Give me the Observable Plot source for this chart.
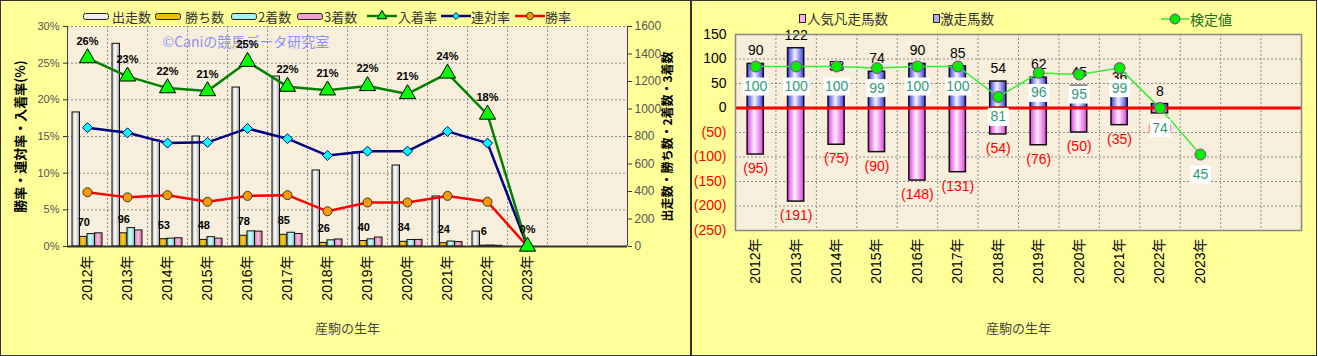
<!DOCTYPE html>
<html>
<head>
<meta charset="utf-8">
<script src="https://cdn.jsdelivr.net/npm/d3@7"></script>
<script src="https://cdn.jsdelivr.net/npm/@observablehq/plot@0.6"></script>
<style>
  html, body { margin: 0; padding: 0; background: #ffffff; }
  #wrap { position: relative; width: 1318px; height: 356px; overflow: hidden;
          font-family: 'Liberation Sans', 'Noto Sans CJK JP', sans-serif; }
  .panel { position: absolute; top: 0; height: 356px; box-sizing: border-box;
           background: #FFFF99; border: 1px solid #333; }
  .chart { position: absolute; top: 0; }
  .leg { position: absolute; display: flex; align-items: center; white-space: nowrap;
         font-family: 'Noto Sans CJK JP', sans-serif; color: #333; }
  .leg svg { display: block; }
</style>
</head>
<body>
<div id="wrap">
  <div class="panel" style="left:0;width:691px;"></div>
  <div class="panel" style="left:691px;width:626px;"></div>
</div>
<script>
// ---------------- data ----------------
const years = [2012, 2013, 2014, 2015, 2016, 2017, 2018, 2019, 2020, 2021, 2022, 2023];
const yearLabels = years.map(y => `${y}年`);

// left chart: counts (right axis) and rates (left axis, %)
const starts  = [975, 1474, 771, 800, 1156, 1236, 553, 684, 589, 364, 109, 0];
const wins    = [70, 96, 53, 48, 78, 85, 26, 40, 34, 24, 6, 0];
const seconds = [90, 134, 57, 68, 110, 100, 45, 52, 47, 36, 7, 0];
const thirds  = [96, 117, 60, 57, 108, 91, 51, 65, 48, 32, 5, 0];
const placeRate    = [25.7, 23.2, 21.6, 21.2, 25.2, 21.8, 21.3, 21.9, 20.8, 23.6, 18.0, 0];
const quinellaRate = [16.2, 15.5, 14.1, 14.2, 16.1, 14.7, 12.4, 13.0, 13.0, 15.7, 14.1, 0];
const winRate      = [7.4, 6.7, 7.0, 6.1, 6.9, 7.0, 4.8, 6.0, 6.0, 6.9, 6.1, 0];
const rateTicks  = [0, 5, 10, 15, 20, 25, 30];
const countTicks = [0, 200, 400, 600, 800, 1000, 1200, 1400, 1600];

// right chart
const hotHorses  = [90, 122, 58, 74, 90, 85, 54, 62, 45, 36, 8, null];   // 激走馬数
const favFlops   = [95, 191, 75, 90, 148, 131, 54, 76, 50, 35, 11, null]; // 人気凡走馬数
const testValues = [100, 100, 100, 99, 100, 100, 81, 96, 95, 99, 74, 45]; // 検定値
const rightTicks = [-250, -200, -150, -100, -50, 0, 50, 100, 150];

// ---------------- helpers ----------------
const FONT = "'Liberation Sans', 'Noto Sans CJK JP', sans-serif";
const JP = "'Noto Sans CJK JP', sans-serif";
const wrap = document.getElementById("wrap");
const dotted = {stroke: "#8c8c8c", strokeOpacity: 1, strokeDasharray: "2,2", strokeWidth: 1};
const xDomain = [2011.5, 2025.5];           // 14 category slots, 12 used
const slotEdges = d3.range(2012.5, 2025.5, 1);

function addGradients(svg, grads) {
  const defs = d3.select(svg).insert("defs", ":first-child");
  for (const [id, stops] of grads) {
    const g = defs.append("linearGradient").attr("id", id)
      .attr("x1", 0).attr("x2", 1).attr("y1", 0).attr("y2", 0);
    stops.forEach(([o, c]) => g.append("stop").attr("offset", o).attr("stop-color", c));
  }
}
function place(node, left) {
  node.classList.add("chart");
  node.style.left = left + "px";
  wrap.appendChild(node);
}
function legendItem(sx, tx, cy, swatch, sw, sh, label, color, size) {
  const s = document.createElement("div");
  s.className = "leg";
  s.style.left = sx + "px"; s.style.top = (cy - sh / 2) + "px";
  s.innerHTML = `<svg width="${sw}" height="${sh}">${swatch}</svg>`;
  wrap.appendChild(s);
  const t = document.createElement("div");
  t.className = "leg";
  t.style.left = tx + "px"; t.style.top = (cy - size * 0.72) + "px";
  t.style.fontSize = size + "px"; t.style.color = color;
  t.textContent = label;
  wrap.appendChild(t);
}
const barSwatch = (fill) => `<rect x="0.5" y="1.5" width="25" height="6" rx="2" fill="${fill}" stroke="#222"/>`;
const lineSwatch = (stroke, sym, size, fill, mstroke) =>
  `<line x1="0" x2="30" y1="7" y2="7" stroke="${stroke}" stroke-width="2.5"/>` +
  `<path transform="translate(15,7)" d="${d3.symbol(sym, size)()}" fill="${fill}" stroke="${mstroke}"/>`;

// ---------------- left chart ----------------
const cnt = d3.scaleLinear([0, 1600], [0, 30]);   // counts -> secondary (right) axis
const rows = years.map((year, i) => ({
  year, starts: starts[i], wins: wins[i], seconds: seconds[i], thirds: thirds[i],
  place: placeRate[i], quin: quinellaRate[i], win: winRate[i]
}));
const bw = 0.1875;
const barDefs = ["starts", "wins", "seconds", "thirds"];
const barGrad = ["gStart", "gWin", "gSecond", "gThird"];

const left = Plot.plot({
  width: 691, height: 356,
  marginLeft: 67, marginRight: 64, marginTop: 26, marginBottom: 110,
  style: {fontFamily: FONT, background: "transparent", overflow: "visible"},
  x: {domain: xDomain, label: null},
  y: {domain: [0, 30], label: null},
  marks: [
    Plot.frame({fill: "#F7EFDB"}),
    Plot.gridY(rateTicks, dotted),
    Plot.gridX(slotEdges, dotted),
    Plot.text(["©Caniの競馬データ研究室"], {text: d => d, frameAnchor: "top-left", dx: 95, dy: 16,
      lineAnchor: "middle", textAnchor: "start", fill: "#9090f8", fontSize: 14, fontFamily: JP}),
    ...barDefs.map((key, k) => Plot.rect(rows, {
      x1: d => d.year - 0.375 + k * bw, x2: d => d.year - 0.375 + (k + 1) * bw,
      y1: 0, y2: d => cnt(d[key]),
      fill: `url(#${barGrad[k]})`, stroke: "#111", strokeWidth: 1
    })),
    Plot.ruleY([0], {stroke: "#333", strokeWidth: 2}),
    Plot.ruleX(xDomain, {stroke: "#444", strokeWidth: 1}),
    // lines
    Plot.line(rows, {x: "year", y: "win", stroke: "#ff0000", strokeWidth: 2.5}),
    Plot.line(rows, {x: "year", y: "quin", stroke: "#000080", strokeWidth: 2.5}),
    Plot.line(rows, {x: "year", y: "place", stroke: "#008000", strokeWidth: 2.5}),
    Plot.dot(rows, {x: "year", y: "win", r: 4.5, fill: "#ff9900", stroke: "#333", strokeWidth: 1}),
    Plot.dot(rows, {x: "year", y: "quin", symbol: "diamond2", r: 4.5, fill: "#00ffff", stroke: "#000080", strokeWidth: 1}),
    Plot.dot(rows, {x: "year", y: "place", symbol: "triangle", r: 6, fill: "#00ff00", stroke: "#000", strokeWidth: 1}),
    // labels
    Plot.text(rows, {x: "year", y: "place", text: d => `${Math.round(d.place)}%`, dy: -17,
      fontSize: 11, fontWeight: "bold", fill: "#000", letterSpacing: 1}),
    Plot.text(rows.filter(d => d.wins > 0), {x: d => d.year - 0.09375, y: d => cnt(d.wins),
      text: d => String(d.wins), dy: -14, fontSize: 11, fontWeight: "bold", fill: "#000", letterSpacing: 1}),
    // axes
    Plot.axisY(rateTicks, {anchor: "left", tickFormat: d => `${d}%`, tickSize: 4, tickPadding: 4,
      fontSize: 11, fill: "#555", stroke: "#333"}),
    Plot.axisY(countTicks.map(c => cnt(c)), {anchor: "right", tickFormat: v => String(Math.round(cnt.invert(v))),
      tickSize: 4, tickPadding: 3, fontSize: 12, fill: "#555", stroke: "#333"}),
    Plot.axisX(years, {tickFormat: (d, i) => yearLabels[i], tickRotate: -90, tickSize: 0, tickPadding: 9,
      fontSize: 14, fill: "#000"}),
    Plot.text(["勝率・連対率・入着率(%)"], {text: d => d, frameAnchor: "left", dx: -47, rotate: -90,
      textAnchor: "middle", fontSize: 13, fontWeight: "bold", fontFamily: JP, fill: "#000"}),
    Plot.text(["出走数・勝ち数・2着数・3着数"], {text: d => d, frameAnchor: "right", dx: 41, rotate: -90,
      textAnchor: "middle", fontSize: 12, fontWeight: "bold", fontFamily: JP, fill: "#000"}),
    Plot.text(["産駒の生年"], {text: d => d, frameAnchor: "bottom", dy: 86, fontSize: 13,
      fontFamily: JP, fill: "#444"})
  ]
});
addGradients(left, [
  ["gStart", [[0, "#b8b8b8"], [0.45, "#ffffff"], [1, "#a0a0a0"]]],
  ["gWin", [[0, "#c89600"], [0.45, "#ffd21a"], [1, "#c08c00"]]],
  ["gSecond", [[0, "#70d8d8"], [0.45, "#d8ffff"], [1, "#68cccc"]]],
  ["gThird", [[0, "#d070a8"], [0.45, "#ffc0e0"], [1, "#c86aa0"]]]
]);
place(left, 0);

// ---------------- right chart ----------------
const sec = d3.scaleLinear([0, 120], [-242, 150]);  // 検定値 -> hidden secondary axis
const rrows = years.map((year, i) => ({year, hot: hotHorses[i], flop: favFlops[i], test: testValues[i]}));
const boxSym = (w) => ({draw(ctx) {
  ctx.moveTo(-w / 2, -9); ctx.lineTo(w / 2, -9); ctx.lineTo(w / 2, 9); ctx.lineTo(-w / 2, 9); ctx.closePath();
}});
const hasHot = rrows.filter(d => d.hot != null);
const hasFlop = rrows.filter(d => d.flop != null);

const right = Plot.plot({
  width: 627, height: 356,
  marginLeft: 44, marginRight: 17, marginTop: 34, marginBottom: 126,
  style: {fontFamily: FONT, background: "transparent", overflow: "visible"},
  x: {domain: xDomain, label: null},
  y: {domain: [-250, 150], label: null},
  marks: [
    Plot.frame({fill: "#F7EFDB"}),
    Plot.gridY(rightTicks, dotted),
    Plot.gridX(slotEdges, dotted),
    Plot.rect(hasHot, {x1: d => d.year - 0.2, x2: d => d.year + 0.2, y1: 0, y2: "hot",
      fill: "url(#gHot)", stroke: "#111", strokeWidth: 1.5}),
    Plot.rect(hasFlop, {x1: d => d.year - 0.2, x2: d => d.year + 0.2, y1: 0, y2: d => -d.flop,
      fill: "url(#gFlop)", stroke: "#111", strokeWidth: 1.5}),
    Plot.ruleY([0], {stroke: "#ff0000", strokeWidth: 3}),
    Plot.text(hasHot, {x: "year", y: "hot", text: d => String(d.hot), dy: -13, fontSize: 14, fill: "#000"}),
    Plot.text(hasFlop, {x: "year", y: d => -d.flop, text: d => `(${d.flop})`, dy: 14, fontSize: 14, fill: "#ff0000"}),
    Plot.line(rrows, {x: "year", y: d => sec(d.test), stroke: "#33ee33", strokeWidth: 1.5}),
    Plot.dot(rrows, {x: "year", y: d => sec(d.test), r: 5.5, fill: "#00ee00", stroke: "#993399", strokeWidth: 1}),
    Plot.dot(rrows.filter(d => d.test >= 100), {x: "year", y: d => sec(d.test), dy: 20, symbol: boxSym(26), fill: "#ffffff", stroke: "none"}),
    Plot.dot(rrows.filter(d => d.test < 100), {x: "year", y: d => sec(d.test), dy: 20, symbol: boxSym(21), fill: "#ffffff", stroke: "none"}),
    Plot.text(rrows, {x: "year", y: d => sec(d.test), dy: 20, text: d => String(d.test), fontSize: 14, fill: "#339977"}),
    Plot.axisY(rightTicks.filter(t => t >= 0), {anchor: "left", tickSize: 0, tickPadding: 9, fontSize: 14, fill: "#000"}),
    Plot.axisY(rightTicks.filter(t => t < 0), {anchor: "left", tickFormat: d => `(${-d})`, tickSize: 0,
      tickPadding: 9, fontSize: 14, fill: "#ff0000"}),
    Plot.axisX(years, {tickFormat: (d, i) => yearLabels[i], tickRotate: -90, tickSize: 0, tickPadding: 8,
      fontSize: 14, fill: "#000"}),
    Plot.frame({stroke: "#888", strokeWidth: 1.5}),
    Plot.text(["産駒の生年"], {text: d => d, frameAnchor: "bottom", dy: 102, fontSize: 13,
      fontFamily: JP, fill: "#444"})
  ]
});
addGradients(right, [
  ["gHot", [[0, "#3a3ae8"], [0.45, "#f4f4ff"], [1, "#3a3ae8"]]],
  ["gFlop", [[0, "#e040e0"], [0.45, "#fff0ff"], [1, "#e040e0"]]]
]);
place(right, 691);

// ---------------- legends ----------------
legendItem(83, 112, 16, barSwatch("#eeeeee"), 27, 9, "出走数", "#333", 13);
legendItem(155, 185, 16, barSwatch("#f0c000"), 27, 9, "勝ち数", "#333", 13);
legendItem(231, 258, 16, barSwatch("#a8f4f4"), 27, 9, "2着数", "#333", 13);
legendItem(297, 324, 16, barSwatch("#f0a0cc"), 27, 9, "3着数", "#333", 13);
legendItem(367, 398, 16, lineSwatch("#008000", d3.symbolTriangle, 40, "#00ff00", "#000"), 30, 14, "入着率", "#333", 13);
legendItem(441, 471, 16, lineSwatch("#000080", d3.symbolDiamond2, 30, "#00ffff", "#000080"), 30, 14, "連対率", "#333", 13);
legendItem(515, 545, 16, lineSwatch("#ff0000", d3.symbolCircle, 40, "#ff9900", "#333"), 30, 14, "勝率", "#333", 13);

legendItem(799, 807, 18, `<rect x="0.5" y="0.5" width="6" height="8" fill="#f8b0f8" stroke="#222"/>`, 7, 9, "人気凡走馬数", "#333", 13.5);
legendItem(933, 940, 18, `<rect x="0.5" y="0.5" width="6" height="8" fill="#b0b0f8" stroke="#222"/>`, 7, 9, "激走馬数", "#333", 13.5);
legendItem(1161, 1190, 19, `<line x1="0" x2="28" y1="7" y2="7" stroke="#33ee33" stroke-width="1.5"/><circle cx="14" cy="7" r="5" fill="#00ee00" stroke="#993399"/>`, 28, 14, "検定値", "#1a6b1a", 14);
</script>
</body>
</html>
